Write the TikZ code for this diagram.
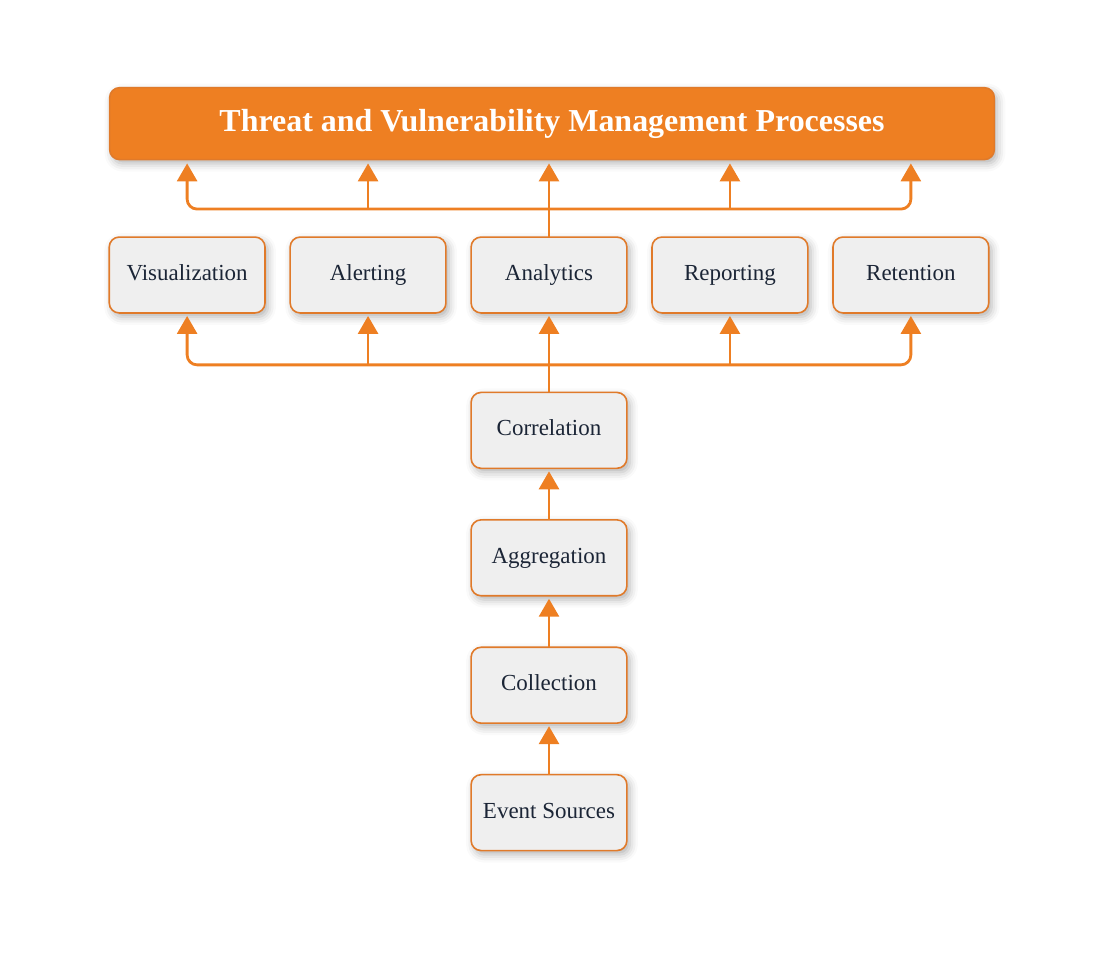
\documentclass[tikz,border=0pt]{standalone}
\usepackage{fontspec}
\setmainfont{Liberation Serif}
\usetikzlibrary{arrows.meta,positioning,calc,shadows,shadows.blur}
\definecolor{tvmorange}{HTML}{EE7F22}
\definecolor{tvmedge}{HTML}{E07A2A}
\definecolor{tvmgray}{HTML}{EFEFEF}
\definecolor{tvmtext}{HTML}{1B2536}

\begin{document}
\begin{tikzpicture}[
	  every node/.style={align=center,text=tvmtext},
	  every matrix/.style={ampersand replacement=\&,column sep=11.8pt,row sep=25pt,inner sep=0pt,outer sep=0pt},
	  stage/.style={draw=tvmedge,line width=0.8pt,fill=tvmgray,rounded corners=5pt,minimum width=78pt,minimum height=38pt,inner sep=0pt,text height=8pt,text depth=2.5pt,font=\fontsize{11.5}{13}\selectfont,blur shadow={shadow xshift=1.5pt,shadow yshift=-2pt,shadow blur radius=4pt,shadow opacity=30}},
	  banner/.style={draw=tvmedge,line width=0.8pt,fill=tvmorange,text=white,rounded corners=5pt,minimum width=443pt,minimum height=36pt,font=\fontsize{16}{18}\selectfont\bfseries,blur shadow={shadow xshift=1.5pt,shadow yshift=-2pt,shadow blur radius=4pt,shadow opacity=30}},
	  to/.style={-{Triangle[width=10pt,length=9pt]},draw=tvmorange,line width=1.4pt,shorten >=1.5pt},
	  bus/.style={draw=tvmorange,line width=1.4pt}]

	  % Position the nodes using a matrix layout
	  \matrix (m) {
	    \node[stage] (visual) {Visualization}; \& \node[stage] (alerting) {Alerting}; \& \node[stage] (analytics) {Analytics}; \& \node[stage] (reporting) {Reporting}; \& \node[stage] (retention) {Retention}; \\[14pt]
	    \& \& \node[stage] (correlation) {Correlation}; \& \& \\
	    \& \& \node[stage] (aggregation) {Aggregation}; \& \& \\
	    \& \& \node[stage] (collection) {Collection}; \& \& \\
	    \& \& \node[stage] (events) {Event Sources}; \& \& \\
	  };
	  \node[banner,above=38pt of m,xshift=1.5pt] (tvm) {Threat and Vulnerability Management Processes};

	  \draw[to] (events) -- (collection);
	  \draw[to] (collection) -- (aggregation);
	  \draw[to] (aggregation) -- (correlation);

	  % lower bus: correlation feeds the five functions
	  \coordinate (lowbus) at ([yshift=-26pt]analytics.south);
	  \draw[bus] (correlation) -- (lowbus);
	  \draw[to] (lowbus) -- (analytics);
	  \foreach \n in {visual,retention}
	    \draw[to,rounded corners=5pt] (lowbus) -| (\n);
	  \foreach \n in {alerting,reporting}
	    \draw[to] (lowbus -| \n) -- (\n);

	  % upper bus: functions feed the processes
	  \coordinate (highbus) at ([yshift=14pt]analytics.north);
	  \draw[bus] (analytics) -- (highbus);
	  \draw[to] (highbus) -- (highbus |- tvm.south);
	  \foreach \n in {visual,retention}
	    \draw[to,rounded corners=5pt] (highbus) -| (\n |- tvm.south);
	  \foreach \n in {alerting,reporting}
	    \draw[to] (highbus -| \n) -- (\n |- tvm.south);

	  \path ($(tvm.north west)+(-54.5pt,43.5pt)$) rectangle ($(events.south -| tvm.east)+(52pt,-54pt)$);
\end{tikzpicture}
\end{document}
